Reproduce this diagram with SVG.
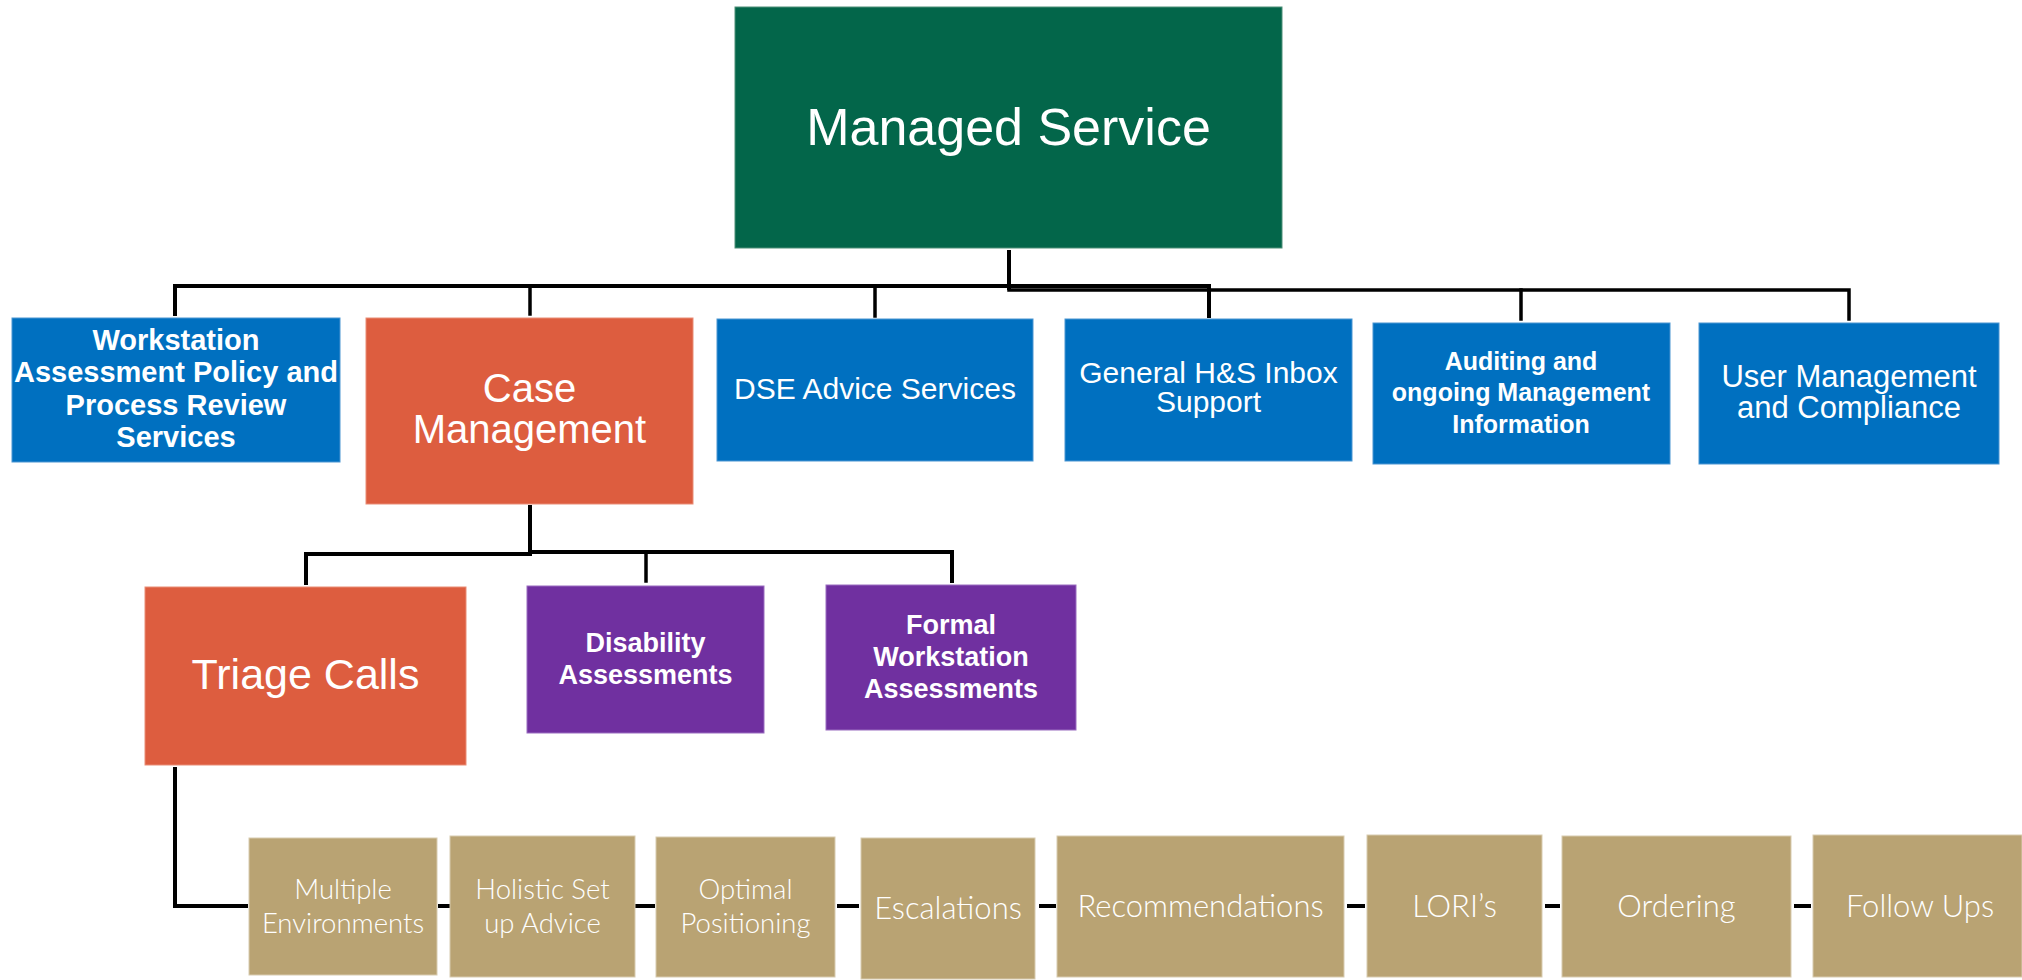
<svg xmlns="http://www.w3.org/2000/svg" width="2022" height="980" viewBox="0 0 2022 980">
<style>
.bg{fill:#ffffff}
.green{fill:#03664A;stroke:#4f8f78;stroke-width:1}
.blue{fill:#0070C0;stroke:#4a95d2;stroke-width:1}
.orange{fill:#DD5D3F;stroke:#e98d77;stroke-width:1}
.purple{fill:#7030A0;stroke:#9a6cc0;stroke-width:1}
.beige{fill:#B9A373;stroke:#d8cbb0;stroke-width:1}
text{fill:#ffffff;text-anchor:middle;font-family:"Liberation Sans",Arial,sans-serif}
.big{font-size:52px}
.mid{font-size:40px}
.t30{font-size:30px}
.t31{font-size:31px}
.b29{font-size:29px;font-weight:bold}
.b27{font-size:27px;font-weight:bold}
.b25{font-size:25px;font-weight:bold}
.lt{font-family:Lato,"Liberation Sans",sans-serif;font-weight:300;font-size:31px}
.lt2{font-family:Lato,"Liberation Sans",sans-serif;font-weight:300;font-size:27.5px}
.ln{fill:none;stroke:#000000;stroke-width:4;stroke-linecap:square;stroke-linejoin:miter}
.ln3{fill:none;stroke:#000000;stroke-width:3.5;stroke-linecap:square;stroke-linejoin:miter}
</style>
<rect class="bg" x="0" y="0" width="2022" height="980"/>

<g id="connectors">
  <line class="ln" x1="1009" y1="252" x2="1009" y2="288"/>
  <path class="ln" d="M175,314 V286 H1209 V316"/>
  <path class="ln3" d="M1009,290 H1849 V319"/>
  <line class="ln3" x1="530" y1="286" x2="530" y2="314"/>
  <line class="ln3" x1="875" y1="286" x2="875" y2="316"/>
  <line class="ln3" x1="1521" y1="290" x2="1521" y2="319"/>
  <line class="ln" x1="530" y1="507" x2="530" y2="553"/>
  <path class="ln" d="M306,583 V554 H530"/>
  <path class="ln" d="M530,552 H952 V581"/>
  <line class="ln3" x1="646" y1="552" x2="646" y2="581"/>
  <path class="ln" d="M175,769 V906 H246"/>
  <line class="ln" x1="440" y1="906" x2="448" y2="906"/>
  <line class="ln" x1="637" y1="906" x2="653" y2="906"/>
  <line class="ln" x1="839" y1="906" x2="857" y2="906"/>
  <line class="ln" x1="1041" y1="906" x2="1054" y2="906"/>
  <line class="ln" x1="1349" y1="906" x2="1363" y2="906"/>
  <line class="ln" x1="1547" y1="906" x2="1558" y2="906"/>
  <line class="ln" x1="1796" y1="906" x2="1809" y2="906"/>
</g>

<g id="managed-service">
  <rect class="green" x="735" y="7" width="547" height="241"/>
  <text class="big" x="1008.5" y="145">Managed Service</text>
</g>

<g id="workstation-assessment">
  <rect class="blue" x="12" y="318" width="328" height="144"/>
  <text class="b29" x="176" y="350">Workstation</text>
  <text class="b29" x="176" y="382">Assessment Policy and</text>
  <text class="b29" x="176" y="415">Process Review</text>
  <text class="b29" x="176" y="447">Services</text>
</g>

<g id="case-management">
  <rect class="orange" x="366" y="318" width="327" height="186"/>
  <text class="mid" x="529.5" y="402">Case</text>
  <text class="mid" x="529.5" y="443">Management</text>
</g>

<g id="dse-advice">
  <rect class="blue" x="717" y="319" width="316" height="142"/>
  <text class="t30" x="875" y="399">DSE Advice Services</text>
</g>

<g id="general-hs">
  <rect class="blue" x="1065" y="319" width="287" height="142"/>
  <text class="t30" x="1208.5" y="383">General H&amp;S Inbox</text>
  <text class="t30" x="1208.5" y="412">Support</text>
</g>

<g id="auditing">
  <rect class="blue" x="1373" y="323" width="297" height="141"/>
  <text class="b25" x="1521" y="370">Auditing and</text>
  <text class="b25" x="1521" y="401">ongoing Management</text>
  <text class="b25" x="1521" y="433">Information</text>
</g>

<g id="user-management">
  <rect class="blue" x="1699" y="323" width="300" height="141"/>
  <text class="t31" x="1849" y="387">User Management</text>
  <text class="t31" x="1849" y="418">and Compliance</text>
</g>

<g id="triage-calls">
  <rect class="orange" x="145" y="587" width="321" height="178"/>
  <text style="font-size:43px" x="305.5" y="689">Triage Calls</text>
</g>

<g id="disability-assessments">
  <rect class="purple" x="527" y="586" width="237" height="147"/>
  <text class="b27" x="645.5" y="652">Disability</text>
  <text class="b27" x="645.5" y="684">Assessments</text>
</g>

<g id="formal-workstation">
  <rect class="purple" x="826" y="585" width="250" height="145"/>
  <text class="b27" x="951" y="634">Formal</text>
  <text class="b27" x="951" y="666">Workstation</text>
  <text class="b27" x="951" y="698">Assessments</text>
</g>

<g id="multiple-environments">
  <rect class="beige" x="249" y="838" width="188" height="137"/>
  <text class="lt2" x="343" y="899">Multiple</text>
  <text class="lt2" x="343" y="933">Environments</text>
</g>

<g id="holistic-setup">
  <rect class="beige" x="450" y="836" width="185" height="141"/>
  <text class="lt2" x="542.5" y="899">Holistic Set</text>
  <text class="lt2" x="542.5" y="933">up Advice</text>
</g>

<g id="optimal-positioning">
  <rect class="beige" x="656" y="837" width="179" height="140"/>
  <text class="lt2" x="745.5" y="899">Optimal</text>
  <text class="lt2" x="745.5" y="933">Positioning</text>
</g>

<g id="escalations">
  <rect class="beige" x="861" y="838" width="174" height="141"/>
  <text class="lt" x="948" y="919">Escalations</text>
</g>

<g id="recommendations">
  <rect class="beige" x="1057" y="836" width="287" height="141"/>
  <text class="lt" x="1200.5" y="917">Recommendations</text>
</g>

<g id="loris">
  <rect class="beige" x="1367" y="835" width="175" height="142"/>
  <text class="lt" x="1454.5" y="917">LORI’s</text>
</g>

<g id="ordering">
  <rect class="beige" x="1562" y="836" width="229" height="141"/>
  <text class="lt" x="1676.5" y="917">Ordering</text>
</g>

<g id="follow-ups">
  <rect class="beige" x="1813" y="835" width="209" height="142"/>
  <text class="lt" x="1920" y="917">Follow Ups</text>
</g>
</svg>
